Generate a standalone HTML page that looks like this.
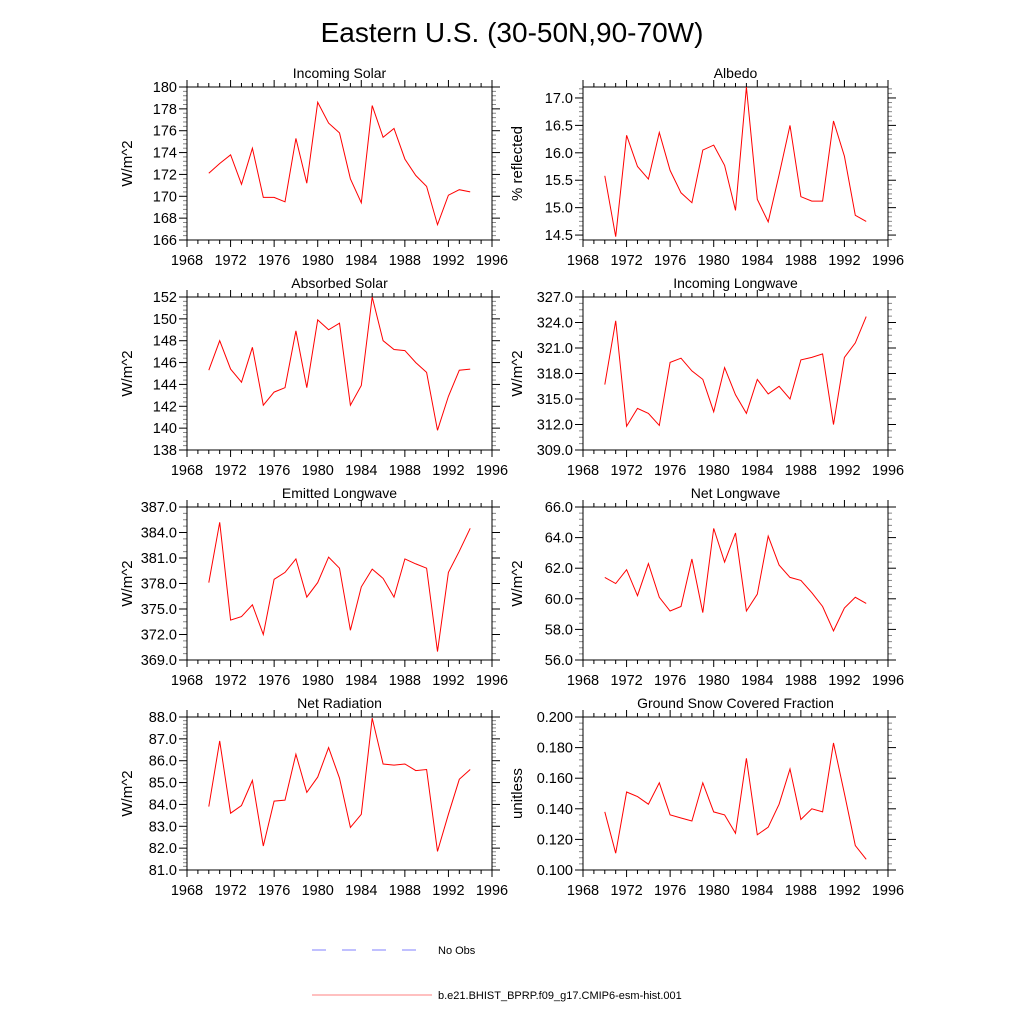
<!DOCTYPE html>
<html><head><meta charset="utf-8">
<style>
body{margin:0;background:#fff;}
svg text{font-family:"Liberation Sans",Arial,sans-serif;fill:#000;}
</style></head>
<body>
<svg id="chart" width="1024" height="1024" xmlns="http://www.w3.org/2000/svg">
<rect width="1024" height="1024" fill="#fff"/>
<text x="512" y="42" font-size="28" text-anchor="middle">Eastern U.S. (30-50N,90-70W)</text>
<g id="panels"></g>
<line x1="312" y1="950" x2="418" y2="950" stroke="#8080ff" stroke-width="1" stroke-dasharray="14,16"/>
<text x="438" y="954" font-size="11">No Obs</text>
<line x1="312" y1="995" x2="432" y2="995" stroke="#ff8080" stroke-width="1"/>
<text x="438" y="999" font-size="11">b.e21.BHIST_BPRP.f09_g17.CMIP6-esm-hist.001</text>
</svg>
<script>
const years = [1970,1971,1972,1973,1974,1975,1976,1977,1978,1979,1980,1981,1982,1983,1984,1985,1986,1987,1988,1989,1990,1991,1992,1993,1994];
const xTicks = [1968,1972,1976,1980,1984,1988,1992,1996];
const incomingSolar = [172.1,173.0,173.8,171.1,174.4,169.9,169.9,169.5,175.3,171.2,178.6,176.7,175.8,171.6,169.4,178.3,175.4,176.2,173.4,171.9,170.9,167.4,170.1,170.6,170.4];
const albedo = [15.58,14.47,16.32,15.75,15.52,16.37,15.68,15.27,15.09,16.05,16.14,15.77,14.95,17.2,15.15,14.74,15.6,16.5,15.2,15.12,15.12,16.58,15.94,14.86,14.75];
const absorbedSolar = [145.3,148.0,145.4,144.2,147.4,142.1,143.3,143.7,148.9,143.7,149.9,149.0,149.6,142.1,143.9,152.0,148.0,147.2,147.1,146.0,145.1,139.8,142.9,145.3,145.4];
const incomingLW = [316.7,324.2,311.8,313.9,313.3,311.9,319.3,319.8,318.3,317.3,313.5,318.7,315.5,313.3,317.3,315.6,316.5,315.0,319.6,319.9,320.3,312.0,319.9,321.6,324.7];
const emittedLW = [378.1,385.2,373.7,374.1,375.5,372.0,378.5,379.3,380.9,376.4,378.1,381.1,379.8,372.5,377.6,379.7,378.6,376.4,380.9,380.3,379.8,370.0,379.3,381.8,384.5];
const netLW = [61.4,61.0,61.9,60.2,62.3,60.1,59.2,59.5,62.6,59.1,64.6,62.4,64.3,59.2,60.3,64.1,62.2,61.4,61.2,60.4,59.5,57.9,59.4,60.1,59.7];
const netRad = [83.9,86.9,83.6,83.95,85.1,82.1,84.15,84.2,86.3,84.55,85.25,86.6,85.2,82.95,83.55,87.95,85.85,85.8,85.85,85.55,85.6,81.85,83.55,85.15,85.6];
const snowFrac = [0.138,0.111,0.151,0.148,0.143,0.157,0.136,0.134,0.132,0.157,0.138,0.136,0.124,0.173,0.123,0.128,0.143,0.166,0.133,0.140,0.138,0.183,0.150,0.116,0.107];
const ticksIS = [166,168,170,172,174,176,178,180];
const ticksAlb = [14.5,15.0,15.5,16.0,16.5,17.0];
const ticksAS = [138,140,142,144,146,148,150,152];
const ticksILW = [309,312,315,318,321,324,327];
const ticksELW = [369,372,375,378,381,384,387];
const ticksNLW = [56,58,60,62,64,66];
const ticksNR = [81,82,83,84,85,86,87,88];
const ticksSnow = [0.1,0.12,0.14,0.16,0.18,0.2];

const NS="http://www.w3.org/2000/svg";
const root=document.getElementById('panels');
function mk(tag,attrs,parent){const e=document.createElementNS(NS,tag);for(const k in attrs)e.setAttribute(k,attrs[k]);(parent||root).appendChild(e);return e;}

const panels=[
 {name:'incoming-solar',title:'Incoming Solar',yl:'W/m^2',data:incomingSolar,ticks:ticksIS,min:166,max:180,dec:0,minor:4,col:0,row:0},
 {name:'albedo',title:'Albedo',yl:'% reflected',data:albedo,ticks:ticksAlb,min:14.41,max:17.2,dec:1,minor:5,col:1,row:0},
 {name:'absorbed-solar',title:'Absorbed Solar',yl:'W/m^2',data:absorbedSolar,ticks:ticksAS,min:138,max:152,dec:0,minor:4,col:0,row:1},
 {name:'incoming-longwave',title:'Incoming Longwave',yl:'W/m^2',data:incomingLW,ticks:ticksILW,min:309,max:327,dec:1,minor:3,col:1,row:1},
 {name:'emitted-longwave',title:'Emitted Longwave',yl:'W/m^2',data:emittedLW,ticks:ticksELW,min:369,max:387,dec:1,minor:3,col:0,row:2},
 {name:'net-longwave',title:'Net Longwave',yl:'W/m^2',data:netLW,ticks:ticksNLW,min:56,max:66,dec:1,minor:4,col:1,row:2},
 {name:'net-radiation',title:'Net Radiation',yl:'W/m^2',data:netRad,ticks:ticksNR,min:81,max:88,dec:1,minor:5,col:0,row:3},
 {name:'ground-snow-fraction',title:'Ground Snow Covered Fraction',yl:'unitless',data:snowFrac,ticks:ticksSnow,min:0.1,max:0.2,dec:3,minor:4,col:1,row:3}
];

panels.forEach(p=>{
  const L=p.col?583:187, R=L+305, T=87+p.row*210, B=T+153;
  const g=mk('g',{});
  
  
  const xs=v=>L+(v-1968)/(1996-1968)*(R-L);
  const ys=v=>B-(v-p.min)/(p.max-p.min)*(B-T);
  for(let y=1969;y<1996;y++){ if((y-1968)%4===0)continue;
    mk('line',{x1:xs(y),x2:xs(y),y1:B,y2:B+4,stroke:'#000','stroke-width':1},g);
    mk('line',{x1:xs(y),x2:xs(y),y1:T,y2:T-4,stroke:'#000','stroke-width':1},g);
  }
  xTicks.forEach(v=>{
    mk('line',{x1:xs(v),x2:xs(v),y1:B,y2:B+7,stroke:'#000','stroke-width':1},g);
    mk('line',{x1:xs(v),x2:xs(v),y1:T,y2:T-7,stroke:'#000','stroke-width':1},g);
    const t=mk('text',{x:xs(v),y:B+25,'font-size':14.5,'text-anchor':'middle'},g);
    
    
    t.textContent=v;
  });
  const step=p.ticks[1]-p.ticks[0];
  const first=p.ticks[0]-step, last=p.ticks[p.ticks.length-1]+step;
  for(let v=first; v<=last+1e-9; v+=step){
    for(let k=1;k<=p.minor;k++){
      const mv=v+k*step/(p.minor+1);
      if(mv<p.min-1e-9||mv>p.max+1e-9)continue;
      mk('line',{x1:L,x2:L-4,y1:ys(mv),y2:ys(mv),stroke:'#888','stroke-width':1},g);
      mk('line',{x1:R,x2:R+4,y1:ys(mv),y2:ys(mv),stroke:'#888','stroke-width':1},g);
    }
  }
  p.ticks.forEach(v=>{
    mk('line',{x1:L,x2:L-8,y1:ys(v),y2:ys(v),stroke:'#000','stroke-width':1},g);
    mk('line',{x1:R,x2:R+8,y1:ys(v),y2:ys(v),stroke:'#000','stroke-width':1},g);
    const t=mk('text',{x:L-10,y:ys(v)+5,'font-size':14.5,'text-anchor':'end'},g);
    
    
    t.textContent=v.toFixed(p.dec);
  });
  const box=mk('rect',{x:L,y:T,width:R-L,height:B-T,fill:'none',stroke:'#000','stroke-width':1},g);
  
  
  const pts=p.data.map((v,i)=>xs(years[i]).toFixed(1)+','+ys(v).toFixed(1)).join(' ');
  const line=mk('polyline',{points:pts,fill:'none',stroke:'#ff0000','stroke-width':1},g);
  
  
  const tt=mk('text',{x:(L+R)/2,y:T-9,'font-size':14,'text-anchor':'middle'},g);
  
  
  tt.textContent=p.title;
  const yx=p.col?522:132;
  const yt=mk('text',{x:yx,y:(T+B)/2,'font-size':15,'text-anchor':'middle',transform:`rotate(-90 ${yx} ${(T+B)/2})`},g);
  
  
  yt.textContent=p.yl;
});
</script>
</body></html>
